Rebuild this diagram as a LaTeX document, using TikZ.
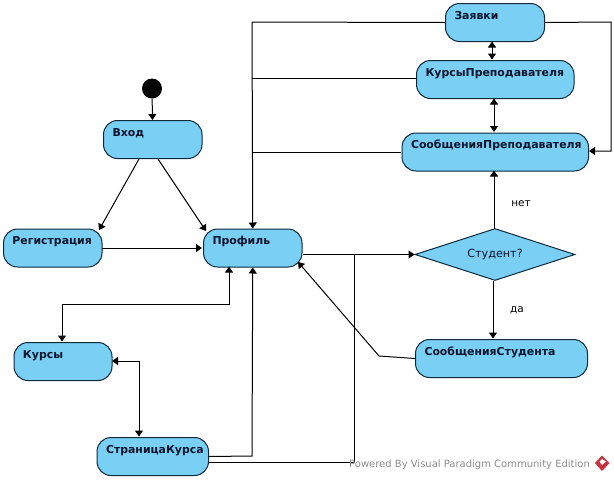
\documentclass[tikz,border=0pt]{standalone}
\usepackage{fontspec}
\setmainfont{DejaVu Sans}
\usetikzlibrary{arrows.meta,shapes.geometric,calc}
\definecolor{statefill}{HTML}{7ACFF5}
\definecolor{stateedge}{HTML}{0B2A3C}
\definecolor{statetext}{HTML}{06142C}
\definecolor{logored}{HTML}{C8323C}
\tikzset{
  x=1pt,y=-1pt,
  statebox/.style={draw=stateedge,fill=statefill,line width=1pt,rounded corners=14pt,
    anchor=north west,inner xsep=9pt,inner ysep=0pt,text width=#1pt-18pt,align=left,
    text height=15.7pt,text depth=22.3pt,text=statetext,
    font=\fontsize{10.9}{12}\selectfont\bfseries},
  conn/.style={draw=black,line width=1pt,-{Triangle[length=6pt,width=8pt]}},
  biconn/.style={draw=black,line width=1pt,{Triangle[length=6pt,width=8pt]}-{Triangle[length=6pt,width=8pt]}},
  plain/.style={draw=black,line width=1pt},
  edgelabel/.style={text=black,font=\fontsize{10.5}{12}\selectfont},
}
\begin{document}
\begin{tikzpicture}
\useasboundingbox (0,0) rectangle (614,480);
\node[circle,fill=black,minimum size=20pt,inner sep=0pt] (start) at (152,88.5) {};
\node[statebox=98.5] (vhod) at (103,120) {Вход};
\node[statebox=98.5] (reg) at (3,228.5) {Регистрация};
\node[statebox=98.5] (prof) at (203,228.5) {Профиль};
\node[statebox=98] (kursy) at (13.5,342) {Курсы};
\node[statebox=111.5] (stk) at (96.5,437) {СтраницаКурса};
\node[statebox=99] (zayav) at (445,3) {Заявки};
\node[statebox=157.5] (kp) at (416,60) {КурсыПреподавателя};
\node[statebox=186.5] (sp) at (401.5,132.5) {СообщенияПреподавателя};
\node[statebox=172] (ss) at (415,339) {СообщенияСтудента};
\node[diamond,draw=stateedge,fill=statefill,line width=1pt,aspect=3.08,minimum width=160pt,minimum height=52pt,inner sep=0pt,text=statetext,font=\fontsize{11.2}{12}\selectfont] (dec) at (495,254.5) {Студент?};
\coordinate (rt) at (611,22);
\coordinate (rb) at (611,151);
\coordinate (j1) at (252,22);
\coordinate (kpj) at (416,78);
\coordinate (spj) at (401,152);
\coordinate (ssb) at (379,356);

\draw[conn] (start) -- (vhod);
\draw[conn] (139,159) -- (99,230);
\draw[conn] (158,159) -- (206,231);
\draw[conn] (102,248) -- (202,248);
\draw[conn] (prof.east |- dec.west) -- (dec.west);
\draw[plain] (zayav.west) -- (j1);
\draw[plain] (kpj) -- (252,78);
\draw[plain] (spj) -- (252,152);
\draw[conn] (j1) -- (prof.north);
\draw[conn] (zayav.east) -- (rt) -- (rb) -- (589,151);
\draw[biconn] (492,41.5) -- (492,59.5);
\draw[biconn] (494,98.5) -- (494,132);
\draw[conn] (494,229) -- (494,170.5);
\draw[conn] (493,281) -- (493,338.5);
\draw[conn] (ss.west) -- (ssb) -- (298,262);
\draw[conn] (stk.east) -- (252,456) -- (prof.south);
\draw[plain] (208,462) -- (354,462) -- (354,254.5);
\draw[biconn] (62,341.5) -- (62,304) -- (229,304) -- (229,266.5);
\draw[biconn] (112,361) -- (139,361) -- (139,436.5);
\node[edgelabel,anchor=base] (no) at (521,206) {нет};
\node[edgelabel,anchor=base] (yes) at (517,312) {да};
\node[anchor=base west,inner sep=0pt,text=black!45,font=\fontsize{10}{12}\selectfont] (pw) at (349,467) {Powered By Visual Paradigm Community Edition};
\fill[logored] (602,455.5) -- (609.5,463) -- (602,471) -- (595,463) -- cycle;
\fill[white] (602,459) -- (606,461.5) -- (602,465) -- (599.5,461.5) -- cycle;
\end{tikzpicture}
\end{document}
